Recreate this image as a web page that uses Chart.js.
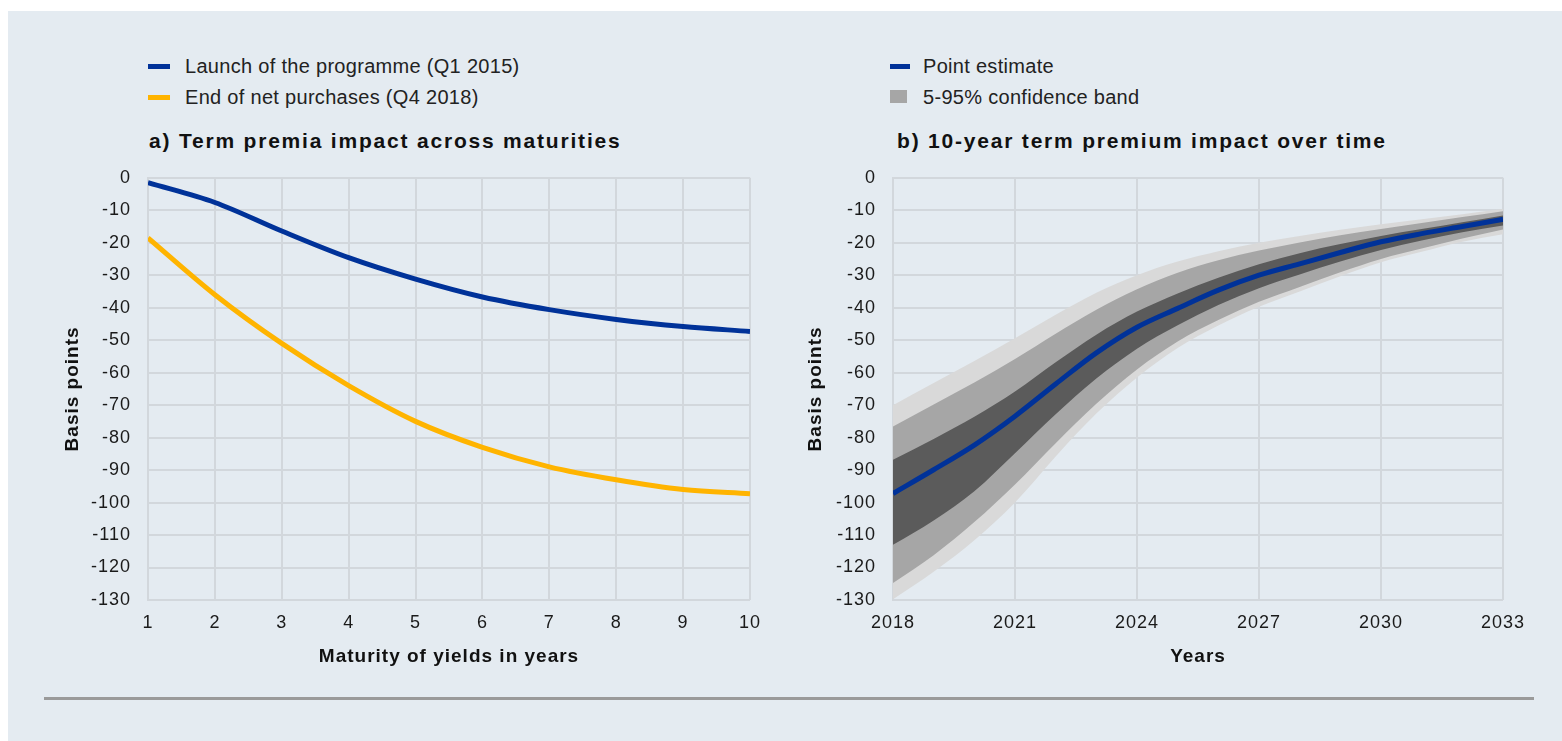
<!DOCTYPE html>
<html>
<head>
<meta charset="utf-8">
<title>Term premia impact</title>
<script src="https://cdn.jsdelivr.net/npm/chart.js@4.4.1/dist/chart.umd.min.js"></script>
<style>
  html, body { margin: 0; padding: 0; background: #fff; width: 1562px; height: 741px; overflow: hidden;
               font-family: "Liberation Sans", Arial, sans-serif; }
  #panel { position: absolute; left: 8px; top: 11px; width: 1554px; height: 730px; background: #e4ebf1; }
  .box { position: absolute; }
  .leg { position: absolute; font-size: 20px; line-height: 22px; color: #222; white-space: nowrap; letter-spacing: 0.3px; }
  .leg i { position: absolute; display: block; }
  .ttl { position: absolute; font-size: 21px; line-height: 24px; font-weight: bold; color: #111;
         white-space: nowrap; letter-spacing: 1.8px; }
  #rule { position: absolute; left: 44px; top: 697px; width: 1490px; height: 3px; background: #9a9a9a; }
</style>
</head>
<body>
<div id="panel"></div>

<!-- legends -->
<div class="leg" style="left:185px; top:55px;"><i style="left:-37px; top:9px; width:22px; height:5px; background:#003299;"></i>Launch of the programme (Q1 2015)</div>
<div class="leg" style="left:185px; top:86px;"><i style="left:-37px; top:9px; width:22px; height:5px; background:#ffb400;"></i>End of net purchases (Q4 2018)</div>
<div class="leg" style="left:923px; top:55px;"><i style="left:-33px; top:9px; width:20px; height:5px; background:#003299;"></i>Point estimate</div>
<div class="leg" style="left:923px; top:86px;"><i style="left:-33px; top:4px; width:17px; height:13px; background:#a6a6a6;"></i>5-95% confidence band</div>

<div class="ttl" style="left:149px; top:129px;">a) Term premia impact across maturities</div>
<div class="ttl" style="left:897px; top:129px;">b) 10-year term premium impact over time</div>

<div class="box" style="left:40px; top:150px; width:740px; height:520px;"><canvas id="chartA" width="740" height="520"></canvas></div>
<div class="box" style="left:780px; top:150px; width:770px; height:520px;"><canvas id="chartB" width="770" height="520"></canvas></div>

<div id="rule"></div>

<script>
// panel a) term premia impact across maturities (basis points)
var maturities = [1, 2, 3, 4, 5, 6, 7, 8, 9, 10];
var launchQ12015 = [-1.5, -7.6, -16.4, -24.6, -31.2, -36.7, -40.6, -43.6, -45.8, -47.3];
var endNetPurchasesQ42018 = [-18.5, -36, -51, -64, -75, -83, -89, -93, -96, -97.3];

// panel b) 10-year term premium impact over time (basis points)
var years = [2018, 2019, 2020, 2021, 2022, 2023, 2024, 2025, 2026, 2027, 2028, 2029, 2030, 2031, 2032, 2033];
var pointEstimate = [-97.2, -89.9, -82.3, -73.4, -63.5, -53.9, -46, -40.2, -34.6, -30, -26.5, -23, -19.7, -17.2, -15, -12.8];
var outerUpper = [-70, -63.2, -56.4, -49.4, -42.2, -35.4, -30, -25.8, -22.6, -20, -17.9, -16, -14.3, -12.8, -11.2, -9.6];
var outerLower = [-129.8, -121.3, -111.6, -100, -85.8, -72.6, -61.5, -52.4, -45.5, -39.7, -35, -30.3, -26, -22.8, -19.7, -17.4];
var midUpper = [-76.6, -69.8, -63, -55.8, -48, -40.6, -34.3, -29.2, -25.4, -22.4, -19.9, -17.7, -15.8, -13.9, -12.1, -10.3];
var midLower = [-124.8, -116.2, -106, -94.4, -81.7, -69.6, -59, -50.4, -43.8, -38.2, -33.6, -29.1, -25, -21.8, -18.7, -15.9];
var innerUpper = [-86.8, -80.4, -73.6, -65.8, -56.8, -48.3, -41.2, -35.6, -30.8, -26.6, -23.2, -20.4, -17.9, -15.8, -13.7, -11.6];
var innerLower = [-113, -105.5, -96.5, -84.8, -72.8, -61.8, -52.6, -45.4, -39.2, -34, -29.8, -25.8, -22.2, -19.3, -16.8, -14.7];

var yTicks = { min: -130, max: 0, step: 10 };

Chart.defaults.font.family = '"Liberation Sans", Arial, sans-serif';
Chart.defaults.color = '#1a1a1a';

var gridColor = '#d2d7dc';

// the source chart's lettering is set a little wide
var spacing = {
    id: 'spacing',
    beforeLayout: function (chart) { chart.ctx.letterSpacing = '1px'; },
    beforeDraw: function (chart) { chart.ctx.letterSpacing = '1px'; }
};

function xy(xs, ys) {
    return xs.map(function (x, i) { return { x: x, y: ys[i] }; });
}

function axes(xMin, xMax, xStep, xTitle, yWidth) {
    return {
        x: {
            type: 'linear',
            min: xMin,
            max: xMax,
            ticks: { stepSize: xStep, padding: 12, font: { size: 18 }, maxRotation: 0,
                     callback: function (v) { return String(v); } },
            grid: { color: gridColor, lineWidth: 2, drawTicks: false },
            border: { display: false },
            title: { display: true, text: xTitle, font: { size: 19, weight: 'bold' }, color: '#111',
                     padding: { top: 0, bottom: 0 } },
            afterFit: function (scale) { scale.height = 68; }
        },
        y: {
            min: yTicks.min,
            max: yTicks.max,
            ticks: { stepSize: yTicks.step, padding: 17, font: { size: 18 } },
            grid: { color: gridColor, lineWidth: 2, drawTicks: false },
            border: { display: true, color: gridColor, width: 2 },
            title: { display: true, text: 'Basis points', font: { size: 19, weight: 'bold' }, color: '#111',
                     padding: { top: 0, bottom: 0 } },
            afterFit: function (scale) { scale.width = yWidth; }
        }
    };
}

var common = {
    responsive: false,
    animation: false,
    plugins: { legend: { display: false }, tooltip: { enabled: false } },
    elements: { point: { radius: 0 }, line: { cubicInterpolationMode: 'monotone' } }
};

new Chart(document.getElementById('chartA'), {
    type: 'line',
    plugins: [spacing],
    data: {
        datasets: [
            { label: 'Launch of the programme (Q1 2015)', data: xy(maturities, launchQ12015),
              borderColor: '#003299', borderWidth: 5, fill: false },
            { label: 'End of net purchases (Q4 2018)', data: xy(maturities, endNetPurchasesQ42018),
              borderColor: '#ffb400', borderWidth: 5, fill: false }
        ]
    },
    options: Object.assign({}, common, {
        layout: { padding: { left: 21, right: 30, top: 21, bottom: 2 } },
        scales: axes(1, 10, 1, 'Maturity of yields in years', 87)
    })
});

var noLine = 'rgba(0,0,0,0)';
new Chart(document.getElementById('chartB'), {
    type: 'line',
    plugins: [spacing],
    data: {
        datasets: [
            { label: 'Point estimate', data: xy(years, pointEstimate), borderColor: '#003299', borderWidth: 5, fill: false },
            { label: 'inner upper', data: xy(years, innerUpper), borderColor: noLine, borderWidth: 0,
              backgroundColor: '#5b5b5b', fill: 2 },
            { label: 'inner lower', data: xy(years, innerLower), borderColor: noLine, borderWidth: 0, fill: false },
            { label: 'middle upper', data: xy(years, midUpper), borderColor: noLine, borderWidth: 0,
              backgroundColor: '#a6a6a6', fill: 4 },
            { label: 'middle lower', data: xy(years, midLower), borderColor: noLine, borderWidth: 0, fill: false },
            { label: '5-95% confidence band', data: xy(years, outerUpper), borderColor: noLine, borderWidth: 0,
              backgroundColor: '#d9d9d9', fill: 6 },
            { label: 'outer lower', data: xy(years, outerLower), borderColor: noLine, borderWidth: 0, fill: false }
        ]
    },
    options: Object.assign({}, common, {
        layout: { padding: { left: 24, right: 47, top: 21, bottom: 2 } },
        scales: axes(2018, 2033, 3, 'Years', 89)
    })
});
</script>
</body>
</html>
